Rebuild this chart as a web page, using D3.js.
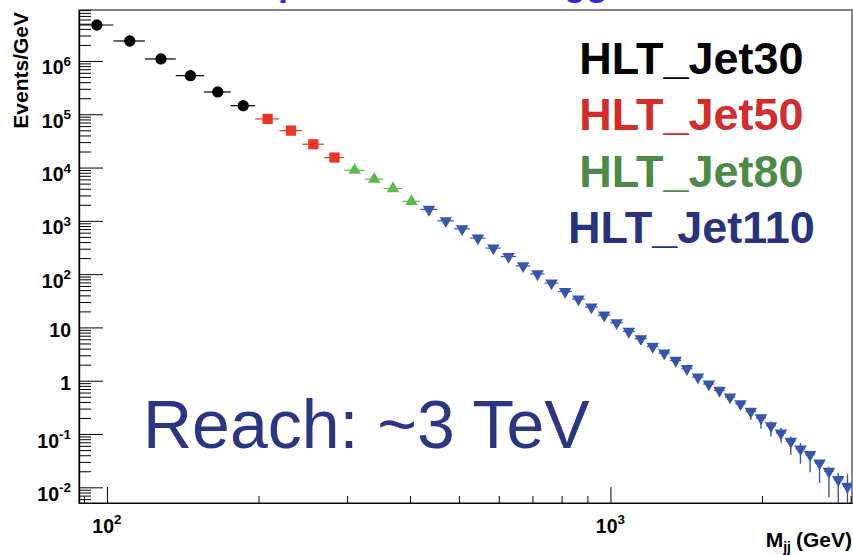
<!DOCTYPE html>
<html>
<head>
<meta charset="utf-8">
<script src="https://cdn.jsdelivr.net/npm/d3@7"></script>
<style>
  html, body { margin: 0; padding: 0; background: #fff; }
  svg { display: block; font-family: "Liberation Sans", Arial, Helvetica, sans-serif; }
</style>
</head>
<body>
<svg id="chart" width="853" height="555"></svg>
<script>
// Dijet mass bin edges (GeV)
const binEdges = [88, 103, 119, 137, 156, 176, 197, 220, 244, 270, 296, 325, 354, 386, 419,
  453, 489, 526, 565, 606, 649, 693, 740, 788, 838, 890, 944, 1000, 1058, 1118, 1181, 1246,
  1313, 1383, 1455, 1530, 1607, 1687, 1770, 1856, 1945, 2037, 2132, 2231, 2332, 2438, 2546,
  2659, 2775, 2895, 3019];

// Events/GeV per trigger path, consecutive bins
const jet30 = [4.73e6, 2.37e6, 1.09e6, 5.30e5, 2.62e5, 1.45e5];
const jet50 = [8.17e4, 4.93e4, 2.74e4, 1.54e4];
const jet80 = [8.9e3, 6.05e3, 4.03e3, 2.32e3];
const jet110 = [1640, 1000, 708, 474, 308, 214, 143, 101, 67.9, 47.2, 34.0, 24.1, 17.0, 12.2,
  8.40, 6.13, 4.39, 3.30, 2.40, 1.68, 1.17, 0.867, 0.657, 0.494, 0.370, 0.265, 0.200, 0.143,
  0.104, 0.0727, 0.0523, 0.0409, 0.0286, 0.0199, 0.0139, 0.0104];

// Statistical error band on the last HLT_Jet110 bins (lower / upper bound)
const jet110TailLow = [0.1855, 0.1258, 0.0902, 0.0687, 0.0409, 0.0277, 0.0191, 0.0121, 0.0065, 0.004, 0.003];
const jet110TailHigh = [0.30, 0.23, 0.172, 0.131, 0.0902, 0.0678, 0.0428, 0.033, 0.0244, 0.0188, 0.018];

const triggerNames = ["HLT_Jet30", "HLT_Jet50", "HLT_Jet80", "HLT_Jet110"];
const yTickExponents = [-2, -1, 0, 1, 2, 3, 4, 5, 6];
const xTickExponents = [2, 3];

const svg = d3.select("#chart");
const plot = { left: 79, right: 852, top: 10, bottom: 503 };

const x = d3.scaleLog().domain([88, 3019]).range([plot.left, plot.right]);
const y = d3.scaleLog().domain([5.08e-3, 9.04e6]).range([plot.bottom, plot.top]);

// Title (sits above the canvas edge)
svg.append("text")
  .attr("x", 154).attr("y", -5)
  .attr("font-size", 36).attr("font-weight", "bold")
  .attr("fill", "#2b2bd9")
  .text("Mass Spectrum from Triggers");

// Frame
svg.append("rect")
  .attr("x", plot.left).attr("y", plot.top)
  .attr("width", plot.right - plot.left).attr("height", plot.bottom - plot.top)
  .attr("fill", "none").attr("stroke", "#444").attr("stroke-width", 1.3);

// Tick positions
const yMinor = [], yMajor = [];
for (let e = -3; e <= 7; e++) {
  for (let m = 1; m <= 9; m++) {
    const v = m * Math.pow(10, e);
    if (v < y.domain()[0] || v > y.domain()[1]) continue;
    (m === 1 ? yMajor : yMinor).push(v);
  }
}
const xMinor = [], xMajor = [];
for (let e = 1; e <= 3; e++) {
  for (let m = 1; m <= 9; m++) {
    const v = m * Math.pow(10, e);
    if (v < x.domain()[0] || v > x.domain()[1]) continue;
    (m === 1 ? xMajor : xMinor).push(v);
  }
}

function styleAxis(g) {
  g.selectAll("path.domain").attr("stroke", "#000").attr("stroke-width", 1.2);
  g.selectAll(".tick line").attr("stroke", "#000").attr("stroke-width", 1);
  g.selectAll(".tick text").remove();
}

svg.append("g").attr("transform", `translate(${plot.left},0)`)
  .call(d3.axisLeft(y).tickValues(yMinor).tickSizeInner(-12).tickSizeOuter(0).tickFormat(""))
  .call(styleAxis);
svg.append("g").attr("transform", `translate(${plot.left},0)`)
  .call(d3.axisLeft(y).tickValues(yMajor).tickSizeInner(-24).tickSizeOuter(0).tickFormat(""))
  .call(styleAxis);
svg.append("g").attr("transform", `translate(0,${plot.bottom})`)
  .call(d3.axisBottom(x).tickValues(xMinor).tickSizeInner(-7).tickSizeOuter(0).tickFormat(""))
  .call(styleAxis);
svg.append("g").attr("transform", `translate(0,${plot.bottom})`)
  .call(d3.axisBottom(x).tickValues(xMajor).tickSizeInner(-16).tickSizeOuter(0).tickFormat(""))
  .call(styleAxis);

// Y tick labels
yTickExponents.forEach(e => {
  const ty = y(Math.pow(10, e));
  const t = svg.append("text")
    .attr("x", 71).attr("text-anchor", "end")
    .attr("font-size", 19.5).attr("font-weight", "bold").attr("fill", "#000");
  if (e === 0 || e === 1) {
    t.attr("y", ty + 9.5).text(e === 0 ? "1" : "10");
  } else {
    t.attr("y", ty + 13.5);
    t.append("tspan").text("10");
    t.append("tspan").attr("dy", -8.5).attr("font-size", 13.5).text(e);
  }
});

// X tick labels
xTickExponents.forEach(e => {
  const t = svg.append("text")
    .attr("x", x(Math.pow(10, e))).attr("y", 533)
    .attr("text-anchor", "middle")
    .attr("font-size", 19.5).attr("font-weight", "bold").attr("fill", "#000");
  t.append("tspan").text("10");
  t.append("tspan").attr("dy", -9).attr("font-size", 13.5).text(e);
});

// Axis titles
svg.append("text")
  .attr("transform", "translate(28,12) rotate(-90)")
  .attr("text-anchor", "end")
  .attr("font-size", 21).attr("font-weight", "bold")
  .text("Events/GeV");

const xt = svg.append("text")
  .attr("x", 852).attr("y", 546.5)
  .attr("text-anchor", "end").attr("font-weight", "bold");
xt.append("tspan").attr("font-size", 21).text("M");
xt.append("tspan").attr("font-size", 14).attr("dy", 5).text("jj");
xt.append("tspan").attr("font-size", 21).attr("dy", -5).attr("dx", 5).text("(GeV)");

// Data
const series = [
  { name: triggerNames[0], values: jet30, offset: 0, color: "#000000", text: "#000000",
    symbol: d3.symbolCircle, size: 100, rotate: 0 },
  { name: triggerNames[1], values: jet50, offset: 6, color: "#ee3322", text: "#d42b2b",
    symbol: d3.symbolSquare, size: 105, rotate: 0 },
  { name: triggerNames[2], values: jet80, offset: 10, color: "#5cbb4c", text: "#4b8a47",
    symbol: d3.symbolTriangle, size: 68, rotate: 0 },
  { name: triggerNames[3], values: jet110, offset: 14, color: "#3656ad", text: "#27337f",
    symbol: d3.symbolTriangle, size: 68, rotate: 180 }
];

const tailStart = jet110.length - jet110TailLow.length;

svg.append("clipPath").attr("id", "plotClip")
  .append("rect")
  .attr("x", plot.left).attr("y", plot.top)
  .attr("width", plot.right - plot.left).attr("height", plot.bottom - plot.top);

const dataLayer = svg.append("g").attr("clip-path", "url(#plotClip)");

series.forEach(s => {
  const pts = s.values.map((v, i) => {
    const lo = binEdges[s.offset + i], hi = binEdges[s.offset + i + 1];
    const p = { lo, hi, center: (lo + hi) / 2, v };
    if (s.name === "HLT_Jet110" && i >= tailStart) {
      p.eLow = jet110TailLow[i - tailStart];
      p.eHigh = jet110TailHigh[i - tailStart];
    }
    return p;
  });
  const g = dataLayer.append("g");
  g.selectAll("line.hx").data(pts).join("line")
    .attr("x1", d => x(d.lo)).attr("x2", d => x(d.hi))
    .attr("y1", d => y(d.v)).attr("y2", d => y(d.v))
    .attr("stroke", s.color).attr("stroke-width", 1.2);
  g.selectAll("line.vy").data(pts.filter(d => d.eLow !== undefined)).join("line")
    .attr("x1", d => x(d.center)).attr("x2", d => x(d.center))
    .attr("y1", d => y(d.eLow)).attr("y2", d => y(d.eHigh))
    .attr("stroke", s.color).attr("stroke-width", 1.4);
  g.selectAll("path").data(pts).join("path")
    .attr("d", d3.symbol(s.symbol, s.size))
    .attr("transform", d => `translate(${x(d.center)},${y(d.v)}) rotate(${s.rotate})`)
    .attr("fill", s.color);
});

// Legend
series.forEach((s, i) => {
  svg.append("text")
    .attr("x", 691.5).attr("y", 74 + i * 56.3)
    .attr("text-anchor", "middle")
    .attr("font-size", 45).attr("font-weight", "bold")
    .attr("fill", s.text)
    .text(s.name);
});

// Annotation
svg.append("text")
  .attr("x", 143).attr("y", 448)
  .attr("font-size", 68)
  .attr("fill", "#2a3584")
  .text("Reach: ~3 TeV");
</script>
</body>
</html>
